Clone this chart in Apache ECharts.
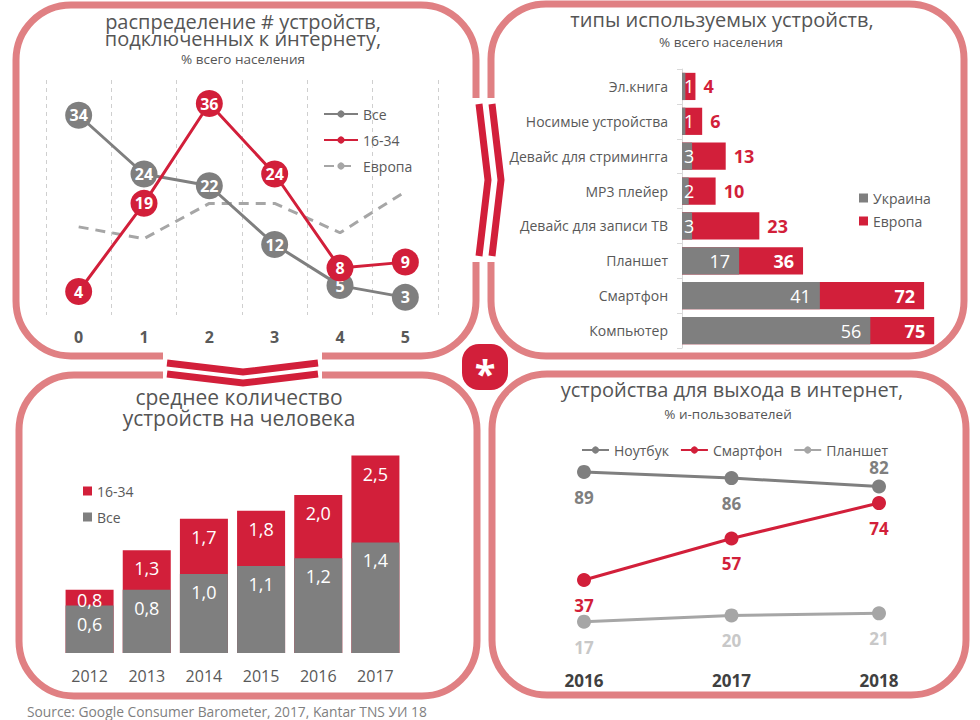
<!DOCTYPE html>
<html><head><meta charset="utf-8">
<script src="https://cdn.jsdelivr.net/npm/echarts@6/dist/echarts.min.js"></script>
<style>html,body{margin:0;padding:0;background:#fff}#c{width:980px;height:720px}</style>
</head><body><div id="c"></div>
<script>
// ---- data ----
const tlCategories = ['0', '1', '2', '3', '4', '5'];
const tlAll = [34, 24, 22, 12, 5, 3];
const tl1634 = [4, 19, 36, 24, 8, 9];
const tlEurope = [15, 13, 19, 19, 14, 21];

const trCategories = ['Эл.книга', 'Носимые устройства', 'Девайс для стримингга', 'MP3 плейер', 'Девайс для записи ТВ', 'Планшет', 'Смартфон', 'Компьютер'];
const trUkraine = [1, 1, 3, 2, 3, 17, 41, 56];
const trEurope = [4, 6, 13, 10, 23, 36, 72, 75];

const blYears = ['2012', '2013', '2014', '2015', '2016', '2017'];
const blAll = [0.6, 0.8, 1.0, 1.1, 1.2, 1.4];
const bl1634 = [0.8, 1.3, 1.7, 1.8, 2.0, 2.5];

const brYears = ['2016', '2017', '2018'];
const brLaptop = [89, 86, 82];
const brSmartphone = [37, 57, 74];
const brTablet = [17, 20, 21];

// ---- styles ----
const FONT = "'Open Sans', sans-serif";
const RED = '#D21F3A';
const GREY = '#7F7F7F';
const LGREY = '#A6A6A6';
const PINK = '#E08083';
const TXT = '#595959';
const TITLE = '#555555';
const fmt = v => v.toFixed(1).replace('.', ',');

function txt(text, x, y, size, extra) {
  return {type: 'text', x: x, y: y, z: 10,
    style: Object.assign({text: text, fill: TITLE, fontSize: size, fontFamily: FONT,
      align: 'center', verticalAlign: 'middle'}, extra || {})};
}
function panel(x, y, w, h) {
  return {type: 'rect', z: 0, shape: {x: x, y: y, width: w, height: h, r: 55},
    style: {fill: 'none', stroke: PINK, lineWidth: 7}};
}
function cover(x, y, w, h) {
  return {type: 'rect', z: 1, shape: {x: x, y: y, width: w, height: h}, style: {fill: '#fff'}};
}
function chev(points) {
  return {type: 'polyline', z: 2, shape: {points: points},
    style: {fill: 'none', stroke: RED, lineWidth: 7, lineJoin: 'miter'}};
}

const graphics = [
  panel(16, 5, 460, 351),
  panel(491, 4, 473, 352),
  panel(19, 375, 458, 321),
  panel(492, 374, 474, 321),
  cover(163, 347, 159, 36),
  cover(467, 98, 34, 164),
  chev([[167, 363], [243, 372], [318, 363]]),
  chev([[167, 374], [243, 383], [318, 374]]),
  chev([[479, 104], [488, 180], [479, 256]]),
  chev([[492, 104], [501, 180], [492, 256]]),
  {type: 'rect', z: 3, shape: {x: 462, y: 344, width: 46, height: 46, r: 17}, style: {fill: RED}},
  txt('*', 485, 373, 38, {fill: '#fff', fontWeight: 'bold'}),
  txt('распределение # устройств,\nподключенных к интернету,', 243, 30, 20, {lineHeight: 17}),
  txt('% всего населения', 243, 59, 13.5),
  txt('типы используемых устройств,', 722, 19, 20),
  txt('% всего населения', 721, 42, 13.5),
  txt('среднее количество\nустройств на человека', 239, 407, 21, {lineHeight: 21}),
  txt('устройства для выхода в интернет,', 732, 389, 20),
  txt('% и-пользователей', 728, 414, 13.5),
  txt('Source: Google Consumer Barometer, 2017, Kantar TNS УИ 18', 27, 711, 13.8, {align: 'left', fill: GREY})
];

const legendText = {fontSize: 14, color: TXT, fontFamily: FONT};

const option = {
  animation: false,
  backgroundColor: '#fff',
  textStyle: {fontFamily: FONT},
  graphic: graphics,
  legend: [
    {orient: 'vertical', left: 318, top: 102, itemWidth: 34, itemHeight: 9, itemGap: 12,
      selectedMode: false, textStyle: legendText, data: ['Все', '16-34', 'Европа']},
    {orient: 'vertical', left: 854, top: 186, itemWidth: 9, itemHeight: 9, itemGap: 9,
      selectedMode: false, textStyle: legendText, icon: 'rect',
      data: [{name: 'Украина', itemStyle: {color: GREY}}, {name: 'Европа', itemStyle: {color: RED}}]},
    {orient: 'vertical', left: 78, top: 479, itemWidth: 9, itemHeight: 9, itemGap: 12,
      selectedMode: false, textStyle: legendText, icon: 'rect',
      data: [{name: '16-34', itemStyle: {color: RED}}, {name: 'Все', itemStyle: {color: GREY}}]},
    {orient: 'horizontal', left: 576, top: 438, itemWidth: 27, itemHeight: 9, itemGap: 11,
      selectedMode: false, textStyle: legendText, data: ['Ноутбук', 'Смартфон', 'Планшет']}
  ],
  grid: [
    {left: 46, top: 80, width: 392, height: 235},
    {left: 682, top: 69, width: 269, height: 279},
    {left: 61, top: 416, width: 343, height: 237},
    {left: 584, top: 449, width: 295, height: 208}
  ],
  xAxis: [
    {gridIndex: 0, type: 'category', data: tlCategories, boundaryGap: true,
      axisLine: {show: false}, axisTick: {show: false},
      axisLabel: {fontSize: 16, fontWeight: 'bold', color: TXT, margin: 14, fontFamily: FONT},
      splitLine: {show: true, lineStyle: {color: '#CFCFCF', type: [4, 4], width: 1}}},
    {gridIndex: 1, type: 'value', min: 0, max: 80, show: false},
    {gridIndex: 2, type: 'category', data: blYears,
      axisLine: {show: false}, axisTick: {show: false},
      axisLabel: {fontSize: 16, color: TXT, margin: 15, fontFamily: FONT}},
    {gridIndex: 3, type: 'category', data: brYears, boundaryGap: false,
      axisLine: {show: false}, axisTick: {show: false},
      axisLabel: {fontSize: 17, fontWeight: 'bold', color: '#404040', margin: 15, fontFamily: FONT}}
  ],
  yAxis: [
    {gridIndex: 0, type: 'value', min: 0, max: 40, show: false},
    {gridIndex: 1, type: 'category', data: trCategories, inverse: true,
      axisLine: {show: true, lineStyle: {color: '#D9D9D9'}},
      axisTick: {show: true, length: 5, lineStyle: {color: '#D9D9D9'}},
      axisLabel: {fontSize: 14, color: TXT, margin: 14, fontFamily: FONT}},
    {gridIndex: 2, type: 'value', min: 0, max: 3, show: false},
    {gridIndex: 3, type: 'value', min: 0, max: 100, show: false}
  ],
  series: [
    // top-left
    {name: 'Европа', type: 'line', xAxisIndex: 0, yAxisIndex: 0, data: tlEurope, symbol: 'none',
      lineStyle: {color: LGREY, width: 3, type: [10, 7]}, itemStyle: {color: LGREY}, z: 1},
    {name: 'Все', type: 'line', xAxisIndex: 0, yAxisIndex: 0, data: tlAll, symbol: 'circle', symbolSize: 27,
      lineStyle: {color: GREY, width: 3}, itemStyle: {color: GREY}, z: 2,
      label: {show: true, position: 'inside', color: '#fff', fontWeight: 'bold', fontSize: 16, fontFamily: FONT}},
    {name: '16-34', type: 'line', xAxisIndex: 0, yAxisIndex: 0, data: tl1634, symbol: 'circle', symbolSize: 27,
      lineStyle: {color: RED, width: 3}, itemStyle: {color: RED}, z: 3,
      label: {show: true, position: 'inside', color: '#fff', fontWeight: 'bold', fontSize: 16, fontFamily: FONT}},
    // top-right
    {name: 'Европа', type: 'bar', xAxisIndex: 1, yAxisIndex: 1, barCategoryGap: '22%', barGap: '-100%',
      itemStyle: {color: RED},
      label: {show: true, fontWeight: 'bold', fontSize: 18, fontFamily: FONT},
      data: trEurope.map(v => ({value: v, label: v >= 30
        ? {position: 'insideRight', color: '#fff', distance: 9}
        : {position: 'right', color: RED, distance: 8}}))},
    {name: 'Украина', type: 'bar', xAxisIndex: 1, yAxisIndex: 1, barCategoryGap: '22%', barGap: '-100%',
      itemStyle: {color: GREY},
      label: {show: true, color: '#fff', fontSize: 18, fontFamily: FONT},
      data: trUkraine.map(v => ({value: v, label: v >= 10
        ? {position: 'insideRight', distance: 9}
        : {position: 'insideLeft', distance: 2}}))},
    // bottom-left
    {name: '16-34', type: 'bar', xAxisIndex: 2, yAxisIndex: 2, barCategoryGap: '16%', barGap: '-100%',
      itemStyle: {color: RED},
      label: {show: true, position: 'insideTop', color: '#fff', fontSize: 18, fontFamily: FONT,
        formatter: p => fmt(p.value)},
      data: bl1634.map((v, i) => ({value: v, label: {distance: (v - blAll[i]) < 0.3 ? 1 : 9}}))},
    {name: 'Все', type: 'bar', xAxisIndex: 2, yAxisIndex: 2, barCategoryGap: '16%', barGap: '-100%',
      itemStyle: {color: GREY},
      label: {show: true, position: 'insideTop', distance: 9, color: '#fff', fontSize: 18, fontFamily: FONT,
        formatter: p => fmt(p.value)},
      data: blAll},
    // bottom-right
    {name: 'Ноутбук', type: 'line', xAxisIndex: 3, yAxisIndex: 3, symbol: 'circle', symbolSize: 14,
      lineStyle: {color: GREY, width: 3}, itemStyle: {color: GREY},
      label: {show: true, position: 'bottom', distance: 10, color: GREY, fontWeight: 'bold', fontSize: 17, fontFamily: FONT},
      data: brLaptop.map((v, i) => i === brLaptop.length - 1
        ? {value: v, label: {position: 'top', distance: 3}} : v)},
    {name: 'Смартфон', type: 'line', xAxisIndex: 3, yAxisIndex: 3, symbol: 'circle', symbolSize: 14,
      lineStyle: {color: RED, width: 3}, itemStyle: {color: RED},
      label: {show: true, position: 'bottom', distance: 10, color: RED, fontWeight: 'bold', fontSize: 17, fontFamily: FONT},
      data: brSmartphone},
    {name: 'Планшет', type: 'line', xAxisIndex: 3, yAxisIndex: 3, symbol: 'circle', symbolSize: 14,
      lineStyle: {color: LGREY, width: 3}, itemStyle: {color: LGREY},
      label: {show: true, position: 'bottom', distance: 10, color: '#C8C8C8', fontWeight: 'bold', fontSize: 17, fontFamily: FONT},
      data: brTablet}
  ]
};

const chart = echarts.init(document.getElementById('c'), null, {renderer: 'svg'});
chart.setOption(option);
</script>
</body></html>
